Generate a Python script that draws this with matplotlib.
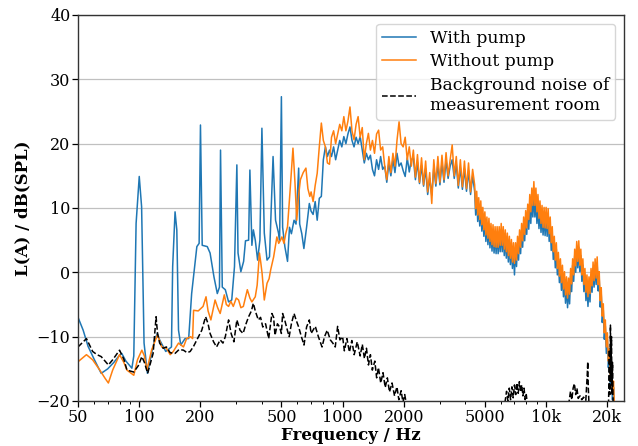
import numpy as np
import matplotlib
matplotlib.use("Agg")
import matplotlib.pyplot as plt
from matplotlib.ticker import FixedLocator, NullFormatter, LogLocator

plt.rcParams['font.family'] = ['DejaVu Serif']
plt.rcParams['mathtext.fontset'] = 'dejavuserif'

# ---------------- data ----------------
# low-frequency part, with pump
freq_pump_lo = [50, 53, 56, 60, 65, 70, 75, 79, 82, 86, 92, 94, 96.5, 100, 102.7, 105.6, 109.7,
                115, 119, 122.7, 126, 135, 144, 146, 150, 153, 156, 160, 168, 175, 181, 192,
                197, 200, 204, 216, 223, 233, 242, 248, 251, 256, 265, 275, 285, 294, 302,
                306, 316, 326, 333, 345, 350, 358, 364, 372, 382, 392, 401, 412, 425, 437,
                455, 468, 484, 490, 500, 507, 520, 536, 548, 560, 577, 590, 608, 615, 630,
                645, 665, 686]
level_pump_lo = [-7.0, -9.0, -11.5, -13.5, -15.7, -15.0, -14.0, -13.1, -12.6, -13.8, -14.9, -13.0,
                 7.6, 14.9, 10.2, -11.0, -15.7, -12.6, -10.5, -9.5, -10.5, -12.3, -11.6, 0.9,
                 9.4, 6.6, -9.0, -11.3, -10.3, -10.3, -3.3, 4.0, 4.5, 22.9, 4.2, 4.0, 3.0,
                 -0.7, -3.3, -2.3, 19.0, -2.3, -2.7, -4.6, -4.3, 0.9, 16.7, 3.0, 0.1, 1.7,
                 4.9, 5.0, 15.9, 4.2, 6.6, 5.0, 1.9, 5.0, 22.4, 6.1, 1.9, 2.4, 18.0, 8.1,
                 6.1, 5.0, 27.3, 7.0, 4.0, 1.7, 7.0, 6.0, 8.1, 7.5, 16.2, 7.5, 6.0, 3.7,
                 7.0, 10.7]

# low-frequency part, without pump
freq_nopump_lo = [50, 55, 59, 64, 68, 70.5, 74, 80, 84, 87, 94, 98, 103, 106, 109, 115, 123, 129,
                  136, 142, 147, 156, 165, 171, 179, 183, 185, 195, 206, 213, 218, 225, 236,
                  243, 250, 262, 268, 275, 282, 290, 300, 308, 316, 325, 340, 350, 358, 372,
                  380, 390, 396, 402, 412, 425, 435, 443, 458, 475, 485, 495, 503, 515, 525,
                  536, 552, 570, 583, 595, 608, 620, 640, 660, 675, 690]
level_nopump_lo = [-13.9, -12.8, -13.6, -15.2, -16.5, -17.2, -15.2, -12.8, -14.0, -15.2, -16.0,
                   -13.6, -12.1, -13.0, -15.2, -12.1, -9.7, -11.6, -11.8, -12.8, -12.3, -11.0,
                   -11.6, -10.3, -10.0, -10.3, -5.9, -6.0, -5.3, -3.8, -6.0, -7.4, -4.3, -5.5,
                   -6.4, -3.5, -5.0, -5.3, -4.5, -5.3, -4.0, -4.3, -5.5, -5.3, -2.7, -4.0,
                   -4.6, -3.8, -2.0, 3.0, 1.5, -0.2, -4.3, -1.7, -1.0, 0.4, 2.4, 5.5, 4.5,
                   5.0, 5.5, 4.5, 6.0, 7.1, 12.8, 19.3, 14.0, 8.1, 12.0, 14.4, 15.5, 16.2,
                   13.0, 11.8]

# mid-frequency part (shared frequency grid)
freq_mid = [700, 716, 733, 750, 768, 786, 804, 823, 842, 862,
            882, 903, 924, 946, 968, 991, 1014, 1038, 1062, 1087,
            1112, 1138, 1165, 1192, 1220, 1249, 1278, 1308, 1339, 1370,
            1402, 1435, 1469, 1503, 1538, 1574, 1611, 1649, 1688, 1727,
            1768, 1809, 1851, 1895, 1939, 1985, 2031, 2079, 2127, 2177,
            2228, 2280, 2334, 2388, 2444, 2501, 2560, 2620, 2681, 2744,
            2808, 2874, 2941, 3010, 3080, 3152, 3226, 3302, 3379, 3458,
            3539, 3622, 3706, 3793, 3882, 3973, 4066, 4161, 4258, 4358]

level_pump_mid = [9.5, 9.0, 11.0, 8.1, 11.5, 11.8, 17.5, 19.5, 18.0, 19.0,
                  18.0, 19.5, 17.5, 19.0, 20.5, 19.5, 21.1, 20.0, 21.5, 22.6,
                  20.5, 19.5, 21.0, 20.0, 21.1, 19.0, 17.0, 18.5, 17.5, 18.2,
                  16.0, 15.0, 17.5, 16.0, 18.0, 16.0, 16.5, 14.0, 17.0, 15.0,
                  17.5, 15.5, 18.5, 16.5, 17.0, 15.8, 14.9, 17.8, 15.6, 17.5,
                  17.8, 14.4, 17.1, 13.8, 16.6, 13.4, 16.1, 12.1, 14.6, 12.0,
                  16.3, 13.4, 16.8, 13.6, 17.0, 14.0, 17.4, 14.6, 16.5, 17.5,
                  14.6, 16.8, 13.1, 16.3, 12.9, 16.1, 12.6, 15.8, 12.1, 15.0]

level_nopump_mid = [12.5, 11.0, 13.5, 15.4, 19.5, 23.2, 20.5, 19.5, 17.0, 16.8,
                    21.0, 22.0, 20.0, 21.5, 23.0, 22.0, 24.2, 22.0, 23.5, 25.7,
                    22.0, 20.6, 23.0, 24.2, 21.0, 22.5, 17.5, 20.0, 21.6, 19.0,
                    20.5, 18.5, 21.5, 22.1, 19.0, 19.5, 16.5, 14.4, 18.0, 15.5,
                    18.5, 16.5, 20.5, 23.4, 20.0, 19.5, 21.0, 17.5, 19.5, 16.5,
                    19.0, 14.8, 18.3, 14.0, 17.8, 13.6, 17.3, 12.5, 15.5, 10.7,
                    17.5, 13.8, 18.0, 14.0, 18.2, 14.4, 18.6, 15.0, 17.5, 19.8,
                    15.0, 18.0, 13.5, 17.5, 13.3, 17.3, 13.0, 17.0, 12.5, 16.0]

# high-frequency part (dense, noisy band; shared frequency grid)
freq_top = [4460, 4512, 4564, 4617, 4671, 4725, 4780, 4836, 4892, 4949,
            5006, 5064, 5123, 5183, 5243, 5304, 5366, 5428, 5491, 5555,
            5620, 5685, 5751, 5818, 5886, 5954, 6023, 6093, 6164, 6236,
            6308, 6382, 6456, 6531, 6607, 6684, 6761, 6840, 6919, 7000,
            7081, 7164, 7247, 7331, 7416, 7503, 7590, 7678, 7767, 7858,
            7949, 8042, 8135, 8230, 8325, 8422, 8520, 8619, 8719, 8821,
            8923, 9027, 9132, 9238, 9345, 9454, 9564, 9676, 9788, 9902,
            10016, 10133, 10251, 10370, 10490, 10613, 10736, 10861, 10987, 11115,
            11244, 11375, 11507, 11641, 11776, 11913, 12051, 12192, 12333, 12477,
            12621, 12768, 12916, 13066, 13218, 13372, 13527, 13685, 13844, 14005,
            14167, 14332, 14499, 14668, 14838, 15011, 15185, 15362, 15540, 15721,
            15903, 16088, 16275, 16465, 16656, 16850, 17045, 17244, 17444, 17647,
            17852, 18060, 18269, 18482, 18697, 18914, 19134, 19357, 19581, 19809,
            20039, 20272, 20508, 20746, 20988, 21232, 21478, 21728, 21981]

level_nopump_top = [13.6, 9.9, 12.6, 8.9, 11.6, 8.2, 11.1, 7.4, 10.1, 6.6,
                    9.4, 5.8, 8.6, 5.3, 8.4, 4.8, 7.6, 4.3, 7.4, 4.0,
                    7.1, 3.9, 7.1, 3.9, 7.1, 4.2, 7.6, 4.2, 7.1, 3.6,
                    6.6, 3.2, 6.1, 2.6, 5.6, 2.2, 5.1, 1.6, 4.6, 1.4,
                    4.6, 1.9, 5.6, 2.9, 6.6, 3.9, 7.6, 4.9, 8.6, 5.9,
                    9.6, 6.9, 10.6, 8.2, 12.1, 9.4, 13.1, 10.4, 14.1, 10.4,
                    13.1, 9.4, 12.1, 8.4, 11.1, 7.6, 10.4, 7.0, 10.1, 6.9,
                    10.1, 6.8, 9.9, 6.0, 8.6, 4.6, 7.1, 3.2, 5.6, 1.9,
                    4.6, 0.6, 3.1, -0.6, 2.1, -1.6, 1.1, -2.6, 0.1, -3.5,
                    -0.7, -4.0, -0.9, -3.4, 0.6, -1.8, 2.1, -0.4, 3.6, 1.0,
                    4.8, 1.7, 4.9, 1.1, 3.6, -0.4, 2.1, -1.9, 0.6, -3.1,
                    -0.4, -3.8, -0.7, -3.3, 0.6, -2.1, 1.6, -1.3, 2.1, -0.9,
                    2.4, -1.9, 0.1, -4.4, -2.4, -6.8, -4.9, -9.4, -7.4, -11.6,
                    -9.4, -13.8, -11.9, -16.4, -14.4, -18.8, -16.9, -21.4, -21.0]

level_pump_top = [12.6, 8.9, 11.6, 7.9, 10.6, 7.2, 10.1, 6.4, 9.1, 5.6,
                  8.4, 4.8, 7.6, 4.3, 7.4, 3.8, 6.6, 3.3, 6.4, 3.0,
                  6.1, 2.9, 6.1, 2.9, 6.1, 3.2, 6.6, 3.2, 6.1, 2.6,
                  5.6, 2.2, 5.1, 1.6, 4.6, 1.2, 4.1, 0.6, 3.6, -0.4,
                  3.6, 0.9, 4.6, 1.9, 5.6, 2.9, 6.6, 3.9, 7.6, 4.9,
                  8.6, 5.9, 9.6, 6.7, 10.6, 7.6, 11.3, 8.6, 12.3, 8.6,
                  11.3, 7.6, 10.3, 6.8, 9.6, 6.2, 9.1, 5.8, 8.9, 5.7,
                  8.9, 5.6, 8.7, 4.8, 7.4, 3.4, 5.9, 2.0, 4.4, 0.7,
                  3.6, -0.4, 2.1, -1.6, 1.1, -2.8, -0.1, -3.8, -1.1, -4.8,
                  -1.9, -5.5, -2.4, -4.9, -0.6, -3.0, 1.1, -1.4, 2.6, 0.0,
                  3.8, 0.7, 3.9, 0.1, 2.6, -1.4, 1.1, -3.0, -0.6, -4.4,
                  -1.9, -5.3, -2.2, -4.6, -0.6, -3.1, 0.6, -2.3, 1.1, -1.9,
                  1.4, -2.9, -0.9, -5.4, -3.4, -7.8, -5.9, -10.4, -8.4, -12.6,
                  -10.4, -14.8, -12.9, -17.4, -15.4, -19.8, -17.9, -22.4, -23.0]

# background noise of measurement room
freq_bg = [50, 55, 59, 62, 65, 70.5, 74, 80, 84, 87, 94, 99, 103, 106, 110, 117, 121, 123, 126,
           131, 136, 142, 150, 157, 165, 172, 178, 185, 192, 203, 212, 218, 223, 232, 240,
           250, 258, 265, 275, 283, 292, 302, 313, 324, 335, 345, 356, 364, 372, 385, 395,
           405, 418, 433, 449, 458, 465, 478, 490, 500, 507, 520, 535, 546, 560, 577, 592,
           608, 627, 646, 665, 686, 700, 734, 760, 792, 815, 840, 870, 895, 920, 945, 970,
           1000, 1020, 1050, 1080, 1110, 1140, 1180, 1220, 1250, 1280, 1310, 1340, 1370,
           1400, 1440, 1470, 1500, 1540, 1580, 1620, 1660, 1700, 1750, 1800, 1850, 1890,
           1940, 1980, 2020, 2060, 2100, 2200, 4000, 6000,
           6300, 6400, 6500, 6600, 6700, 6800, 6900, 7000, 7100, 7200, 7300, 7400, 7500,
           7600, 7700, 7800, 7900, 8000, 8100, 8300, 12500,
           13000, 13200, 13400, 13600, 13800, 14000, 14200, 14400, 14700, 15000, 15300,
           15700, 15950, 16050, 16150, 16300, 20200,
           20300, 20500, 20600, 20750, 20850, 21000, 21100, 21250, 21400, 21600]
level_bg = [-11.6, -10.3, -12.3, -12.8, -13.1, -14.4, -13.6, -12.1, -13.5, -15.2, -15.5, -14.5,
            -13.1, -14.0, -15.7, -12.6, -6.9, -9.5, -11.0, -11.8, -11.6, -12.5, -12.6, -12.0,
            -12.1, -12.5, -12.3, -11.5, -10.5, -9.0, -6.9, -8.0, -9.5, -10.8, -11.6, -10.5,
            -11.0, -10.0, -7.4, -9.5, -10.8, -7.4, -9.0, -9.5, -8.0, -6.9, -6.0, -4.8, -6.0,
            -7.4, -7.0, -8.5, -8.0, -10.3, -6.4, -7.0, -9.8, -8.0, -8.5, -9.5, -6.4, -7.5,
            -9.0, -10.0, -8.0, -6.4, -7.5, -8.5, -10.0, -11.3, -8.5, -7.4, -9.5, -8.4,
            -10.0, -11.6, -10.0, -9.0, -10.5, -11.0, -11.6, -8.4, -10.5,
            -10.0, -12.2, -10.3, -12.4, -10.6, -12.8, -10.8, -13.0, -11.2, -13.4, -11.8,
            -14.4, -12.8, -15.2, -13.8, -16.4, -14.8, -17.2, -15.6, -17.9, -16.4, -18.6,
            -17.2, -19.2, -17.8, -19.8, -18.4, -20.2, -19.0, -20.5, -21.5, -23.0, -25.0, -23.0,
            -20.0, -18.5, -20.0, -18.0, -19.8, -17.8, -19.5, -17.5, -19.0, -17.2, -18.8,
            -17.0, -18.6, -17.5, -19.2, -18.0, -19.8, -19.0, -20.5, -22.0, -23.0,
            -20.0, -18.5, -19.8, -18.0, -17.3, -19.0, -18.0, -19.6, -19.2, -19.8, -19.4,
            -19.9, -16.0, -13.9, -18.0, -21.0, -22.0,
            -21.0, -12.0, -19.0, -8.2, -17.0, -10.0, -19.0, -14.0, -21.0, -24.0]

x_ticks = [50, 100, 200, 500, 1000, 2000, 5000, 10000, 20000]
x_ticklabels = ['50', '100', '200', '500', '1000', '2000', '5000', '10k', '20k']
y_ticks = [-20, -10, 0, 10, 20, 30, 40]

freq_pump = freq_pump_lo + freq_mid + freq_top
level_pump = level_pump_lo + level_pump_mid + level_pump_top
freq_nopump = freq_nopump_lo + freq_mid + freq_top
level_nopump = level_nopump_lo + level_nopump_mid + level_nopump_top

# ---------------- plot ----------------
fig = plt.figure(figsize=(6.38, 4.46), dpi=100)
ax = fig.add_axes([0.1223, 0.1009, 0.8558, 0.8655])

ax.plot(freq_pump, level_pump, color='#1f77b4', lw=1.1, label='With pump')
ax.plot(freq_nopump, level_nopump, color='#ff7f0e', lw=1.1, label='Without pump')
ax.plot(freq_bg, level_bg, color='black', lw=1.1, ls='--', label='Background noise of\nmeasurement room')

ax.set_xscale('log')
ax.set_xlim(50, 24200)
ax.set_ylim(-20, 40)
ax.xaxis.set_major_locator(FixedLocator(x_ticks))
ax.set_xticklabels(x_ticklabels)
ax.xaxis.set_minor_locator(LogLocator(base=10, subs=np.arange(2, 10)))
ax.xaxis.set_minor_formatter(NullFormatter())
ax.set_yticks(y_ticks)

ax.yaxis.grid(True, color='#c0c0c0', lw=0.9)
ax.set_axisbelow(True)

ax.tick_params(axis='both', which='major', labelsize=11.5, length=4, width=0.9,
               direction='out', pad=1.5)
ax.tick_params(axis='x', which='minor', length=2.5, width=0.7)
for s in ax.spines.values():
    s.set_color('#333333')
    s.set_linewidth(1.0)

ax.set_xlabel('Frequency / Hz', fontsize=12, fontweight='bold', labelpad=1)
ax.set_ylabel('L(A) / dB(SPL)', fontsize=12, fontweight='bold', labelpad=4)

ax.legend(loc='upper right', fontsize=12.3, handlelength=2.0, borderaxespad=0.5,
          framealpha=0.8, labelspacing=0.4, borderpad=0.35)

fig.savefig('out.png', dpi=100)
